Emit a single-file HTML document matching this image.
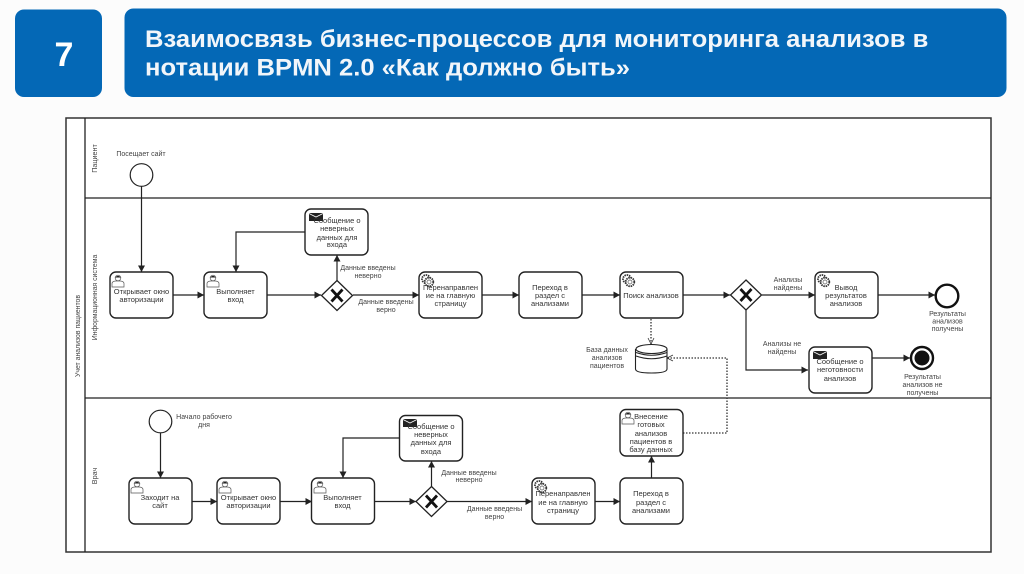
<!DOCTYPE html>
<html><head><meta charset="utf-8"><style>
html,body{margin:0;padding:0;background:#fcfcfc;width:1024px;height:574px;overflow:hidden}
svg{display:block;font-family:"Liberation Sans",sans-serif}
.t{font-size:7.500px;fill:#333;text-anchor:middle}
.s{font-size:7px;fill:#444;text-anchor:middle}
.l{fill:none;stroke:#222;stroke-width:1.200}
.b{fill:#fff;stroke:#222;stroke-width:1.400}
.d{fill:none;stroke:#333;stroke-width:1.300;stroke-dasharray:1.500 1.500}
.u{fill:#fff;stroke:#555;stroke-width:.7}
</style></head><body>
<svg width="1024" height="574" viewBox="0 0 1024 574" xmlns="http://www.w3.org/2000/svg">
<defs>
<marker id="a" markerWidth="8" markerHeight="8" refX="6.500" refY="3.500" orient="auto" markerUnits="userSpaceOnUse"><path d="M0 0L6.500 3.500L0 7Z" fill="#222"/></marker>
<marker id="o" markerWidth="8" markerHeight="8" refX="7" refY="3.500" orient="auto" markerUnits="userSpaceOnUse"><path d="M1 .5L7 3.500L1 6.500" fill="none" stroke="#333" stroke-width=".8"/></marker>
<g id="user"><circle cx="7" cy="4" r="2.800" class="u"/><path d="M1 13V9.500Q1 7.500 4.500 7H9.500Q13 7.500 13 9.500V13Z" class="u"/><path d="M4.200 3.500Q7 0 9.800 3.500Z" fill="#222"/></g>
<g id="mail"><rect width="14" height="8" fill="#222"/><path d="M0 .5L7 4L14 .5" fill="none" stroke="#fff" stroke-width=".8"/></g>
<g id="gear"><circle cx="5" cy="5" r="4" fill="#fff" stroke="#333" stroke-width="1.800" stroke-dasharray="1.500 .8"/><circle cx="8" cy="8" r="4.300" fill="#fff" stroke="#333" stroke-width="1.800" stroke-dasharray="1.500 .8"/><circle cx="8" cy="8" r="2" fill="none" stroke="#555" stroke-width=".7"/></g>
<g id="gw"><path d="M0 -15L15.500 0L0 15L-15.500 0Z" fill="#fff" stroke="#222" stroke-width="1.300"/><path d="M-5.500 -6L5.500 6M5.500 -6L-5.500 6" stroke="#111" stroke-width="2.800"/></g>
</defs>

<rect x="15" y="9.500" width="87" height="87.500" rx="9" fill="#0468b6"/>
<text x="64" y="66" font-size="34" font-weight="bold" fill="#fff" text-anchor="middle">7</text>
<rect x="124.500" y="8.500" width="882" height="88.500" rx="9" fill="#0468b6"/>
<g transform="translate(145,0) scale(1.045,1)" font-size="24.500" font-weight="bold" fill="#f2f6fa">
<text x="0" y="47">Взаимосвязь бизнес-процессов для мониторинга анализов в</text>
<text x="0" y="75.500">нотации BPMN 2.0 «Как должно быть»</text>
</g>

<rect x="66" y="118" width="925" height="434" fill="#fff" stroke="#333" stroke-width="1.500"/>
<path d="M85 118V552M85 198H991M85 398H991" fill="none" stroke="#222" stroke-width="1.300"/>
<g font-size="6.900" fill="#444" text-anchor="middle">
<text transform="translate(80,336) rotate(-90)">Учет анализов пациентов</text>
<text transform="translate(97,158.500) rotate(-90)" font-size="7.200">Пациент</text>
<text transform="translate(97,297.500) rotate(-90)">Информационная система</text>
<text transform="translate(97,476) rotate(-90)" font-size="7.200">Врач</text>
</g>

<!-- connectors -->
<path class="l" marker-end="url(#a)" d="M141.500 186V272"/>
<path class="l" marker-end="url(#a)" d="M173 295H204"/>
<path class="l" marker-end="url(#a)" d="M267 295H321"/>
<path class="l" marker-end="url(#a)" d="M337 281V255"/>
<path class="l" marker-end="url(#a)" d="M305 232H236V272"/>
<path class="l" marker-end="url(#a)" d="M353 295H419"/>
<path class="l" marker-end="url(#a)" d="M482 295H519"/>
<path class="l" marker-end="url(#a)" d="M582 295H620"/>
<path class="l" marker-end="url(#a)" d="M683 295H730"/>
<path class="l" marker-end="url(#a)" d="M762 295H815"/>
<path class="l" marker-end="url(#a)" d="M878 295H935"/>
<path class="l" marker-end="url(#a)" d="M746 309V370H808"/>
<path class="l" marker-end="url(#a)" d="M872 358H910"/>
<path class="d" marker-end="url(#o)" d="M651 319V344"/>
<path class="d" marker-end="url(#o)" d="M683 433H727V358H667"/>
<path class="l" marker-end="url(#a)" d="M160.500 433V478"/>
<path class="l" marker-end="url(#a)" d="M192 501.500H217"/>
<path class="l" marker-end="url(#a)" d="M280 501.500H312"/>
<path class="l" marker-end="url(#a)" d="M374 501.500H416"/>
<path class="l" marker-end="url(#a)" d="M399 438H343V478"/>
<path class="l" marker-end="url(#a)" d="M431.500 487V461"/>
<path class="l" marker-end="url(#a)" d="M447 501.500H532"/>
<path class="l" marker-end="url(#a)" d="M595 501.500H620"/>
<path class="l" marker-end="url(#a)" d="M651.500 478V456"/>

<!-- events -->
<circle cx="141.500" cy="175" r="11.300" fill="#fff" stroke="#222" stroke-width="1.200"/>
<circle cx="160.500" cy="421.500" r="11.300" fill="#fff" stroke="#222" stroke-width="1.200"/>
<circle cx="947" cy="296" r="11.300" fill="#fff" stroke="#111" stroke-width="2.400"/>
<circle cx="922" cy="358" r="11" fill="#fff" stroke="#111" stroke-width="2.400"/>
<circle cx="922" cy="358" r="7.500" fill="#111"/>

<!-- tasks -->
<g class="b">
<rect x="110" y="272" width="63" height="46" rx="6"/>
<rect x="204" y="272" width="63" height="46" rx="6"/>
<rect x="305" y="209" width="63" height="46" rx="6"/>
<rect x="419" y="272" width="63" height="46" rx="6"/>
<rect x="519" y="272" width="63" height="46" rx="6"/>
<rect x="620" y="272" width="63" height="46" rx="6"/>
<rect x="815" y="272" width="63" height="46" rx="6"/>
<rect x="809" y="347" width="63" height="46" rx="6"/>
<rect x="129" y="478" width="63" height="46" rx="6"/>
<rect x="217" y="478" width="63" height="46" rx="6"/>
<rect x="311.500" y="478" width="63" height="46" rx="6"/>
<rect x="399.500" y="415.500" width="63" height="45.500" rx="6"/>
<rect x="532" y="478" width="63" height="46" rx="6"/>
<rect x="620" y="478" width="63" height="46" rx="6"/>
<rect x="620" y="409.500" width="63" height="46.500" rx="6"/>
</g>

<use href="#gw" x="337" y="295.500"/>
<use href="#gw" x="746" y="295"/>
<use href="#gw" x="431.500" y="501.500"/>

<!-- data store -->
<path d="M635.500 349V369Q635.500 373 651.500 373Q667 373 667 369V349" fill="#fff" stroke="#222" stroke-width="1.100"/>
<ellipse cx="651.500" cy="349" rx="15.500" ry="4.500" fill="#fff" stroke="#222" stroke-width="1.100"/>
<path d="M636 352.500Q651.500 358 667 352.500M636 356Q651.500 361.500 667 356" fill="none" stroke="#222" stroke-width="1"/>

<!-- icons -->
<use href="#user" x="111" y="274"/>
<use href="#user" x="206" y="274"/>
<use href="#user" x="130" y="480"/>
<use href="#user" x="218" y="480"/>
<use href="#user" x="313" y="480"/>
<use href="#user" x="621" y="411"/>
<use href="#mail" x="309" y="213"/>
<use href="#mail" x="403" y="419"/>
<use href="#mail" x="813" y="351"/>
<use href="#gear" x="421" y="274"/>
<use href="#gear" x="622" y="274"/>
<use href="#gear" x="817" y="274"/>
<use href="#gear" x="534" y="480"/>

<!-- task labels -->
<g class="t">
<text x="141.500" y="294">Открывает окно</text><text x="141.500" y="302">авторизации</text>
<text x="235.500" y="294">Выполняет</text><text x="235.500" y="302">вход</text>
<text x="337" y="223">Сообщение о</text><text x="337" y="231">неверных</text><text x="337" y="240">данных для</text><text x="337" y="247">входа</text>
<text x="450.500" y="290">Перенаправлен</text><text x="450.500" y="298">ие на главную</text><text x="450.500" y="306">страницу</text>
<text x="550" y="290">Переход в</text><text x="550" y="298">раздел с</text><text x="550" y="306">анализами</text>
<text x="651" y="298">Поиск анализов</text>
<text x="846" y="290">Вывод</text><text x="846" y="298">результатов</text><text x="846" y="306">анализов</text>
<text x="840" y="364">Сообщение о</text><text x="840" y="372">неготовности</text><text x="840" y="381">анализов</text>
<text x="160" y="500">Заходит на</text><text x="160" y="508">сайт</text>
<text x="248.500" y="500">Открывает окно</text><text x="248.500" y="508">авторизации</text>
<text x="342.500" y="500">Выполняет</text><text x="342.500" y="508">вход</text>
<text x="431" y="429">Сообщение о</text><text x="431" y="437">неверных</text><text x="431" y="445">данных для</text><text x="431" y="454">входа</text>
<text x="563" y="496">Перенаправлен</text><text x="563" y="505">ие на главную</text><text x="563" y="513">страницу</text>
<text x="651" y="496">Переход в</text><text x="651" y="505">раздел с</text><text x="651" y="513">анализами</text>
<text x="651" y="419">Внесение</text><text x="651" y="427">готовых</text><text x="651" y="436">анализов</text><text x="651" y="444">пациентов в</text><text x="651" y="452">базу данных</text>
</g>

<!-- small labels -->
<g class="s">
<text x="141" y="156">Посещает сайт</text>
<text x="368" y="270">Данные введены</text><text x="368" y="278">неверно</text>
<text x="386" y="304">Данные введены</text><text x="386" y="312">верно</text>
<text x="607" y="352">База данных</text><text x="607" y="360">анализов</text><text x="607" y="368">пациентов</text>
<text x="788" y="282">Анализы</text><text x="788" y="290">найдены</text>
<text x="782" y="346">Анализы не</text><text x="782" y="354">найдены</text>
<text x="947.500" y="316">Результаты</text><text x="947.500" y="323.500">анализов</text><text x="947.500" y="331">получены</text>
<text x="922.500" y="379">Результаты</text><text x="922.500" y="387">анализов не</text><text x="922.500" y="395">получены</text>
<text x="204" y="419">Начало рабочего</text><text x="204" y="427">дня</text>
<text x="469" y="475">Данные введены</text><text x="469" y="482">неверно</text>
<text x="494.500" y="511">Данные введены</text><text x="494.500" y="519">верно</text>
</g>
</svg>
</body></html>
